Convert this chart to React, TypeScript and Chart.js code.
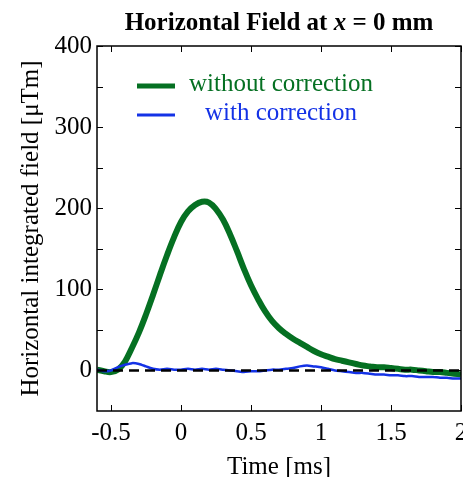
import React, { useEffect, useRef } from "react";
import { Chart, registerables } from "chart.js";
Chart.register(...registerables);

const timeMs = [
  -0.6, -0.55, -0.5, -0.45, -0.4, -0.35, -0.3, -0.25, -0.2, -0.15, -0.1, -0.05,
  0, 0.05, 0.1, 0.15, 0.2, 0.25, 0.3, 0.35, 0.4, 0.45, 0.5, 0.55, 0.6, 0.65,
  0.7, 0.75, 0.8, 0.85, 0.9, 0.95, 1, 1.05, 1.1, 1.15, 1.2, 1.25, 1.3, 1.35,
  1.4, 1.45, 1.5, 1.55, 1.6, 1.65, 1.7, 1.75, 1.8, 1.85, 1.9, 1.95, 2,
];
const withoutCorrection = [
  1, -1, -2, 1, 11, 28, 47, 69, 93, 118, 142, 164,
  183, 196, 204, 208, 207, 199, 186, 168, 147, 125, 105, 88, 73, 61,
  52, 45, 39, 34, 29, 24, 20, 17, 14, 12, 10, 8, 6, 5,
  4, 4, 3, 2, 1, 1, 0, -1, -2, -2, -3, -4, -5,
];
const withCorrection = [
  1, -1, 0, 4, 7, 9, 8, 5, 2, 1, 2, 1,
  1, 2, 1, 2, 1, 2, 1, 0, -1, -2, -1, -1, 0, 1,
  1, 2, 3, 5, 6, 5, 4, 2, 0, -1, -2, -3, -3, -4,
  -5, -5, -6, -6, -7, -7, -8, -8, -8, -9, -9, -10, -10,
];
const zeroLine = [0, 0];
const xTicks = [-0.5, 0, 0.5, 1, 1.5, 2];
const yTicks = [0, 100, 200, 300, 400];
const yMinorTicks = [50, 150, 250, 350];

const SERIF = "'Liberation Serif', 'Times New Roman', serif";
const GREEN = "#057022";
const BLUE = "#1432e6";

const decor = {
  id: "decor",
  afterDatasetsDraw(chart: any) {
    const { ctx, chartArea: a, scales } = chart;
    const x = scales.x;
    const y = scales.y;
    ctx.save();
    ctx.strokeStyle = "#000";
    ctx.lineWidth = 1.5;
    ctx.strokeRect(a.left, a.top, a.right - a.left, a.bottom - a.top);
    const L = 6;
    const seg = (x1: number, y1: number, x2: number, y2: number) => {
      ctx.beginPath();
      ctx.moveTo(x1, y1);
      ctx.lineTo(x2, y2);
      ctx.stroke();
    };
    ctx.lineWidth = 1;
    xTicks.forEach((v) => {
      const px = Math.round(x.getPixelForValue(v)) + 0.5;
      seg(px, a.bottom, px, a.bottom - L);
      seg(px, a.top, px, a.top + L);
    });
    [...yTicks, ...yMinorTicks].forEach((v) => {
      const py = Math.round(y.getPixelForValue(v)) + 0.5;
      seg(a.left, py, a.left + L, py);
      seg(a.right, py, a.right - L, py);
    });

    // Title
    const cx = (a.left + a.right) / 2;
    const p1 = "Horizontal Field at ";
    const p2 = "x";
    const p3 = " = 0 mm";
    const fB = `bold 25px ${SERIF}`;
    const fBI = `italic bold 25px ${SERIF}`;
    ctx.fillStyle = "#000";
    ctx.textBaseline = "middle";
    ctx.font = fB;
    const w1 = ctx.measureText(p1).width;
    const w3 = ctx.measureText(p3).width;
    ctx.font = fBI;
    const w2 = ctx.measureText(p2).width;
    let tx = cx - (w1 + w2 + w3) / 2;
    ctx.textAlign = "left";
    ctx.font = fB;
    ctx.fillText(p1, tx, 24);
    tx += w1;
    ctx.font = fBI;
    ctx.fillText(p2, tx, 24);
    tx += w2;
    ctx.font = fB;
    ctx.fillText(p3, tx, 24);

    // Axis titles
    ctx.font = `25px ${SERIF}`;
    ctx.textAlign = "center";
    ctx.textBaseline = "alphabetic";
    ctx.fillText("Time [ms]", cx, 474);
    ctx.save();
    ctx.translate(38, (a.top + a.bottom) / 2);
    ctx.rotate(-Math.PI / 2);
    ctx.fillText("Horizontal integrated field [\u03bcTm]", 0, 0);
    ctx.restore();

    // Legend
    const lx1 = a.left + 40;
    const lx2 = a.left + 78;
    const tcx = a.left + 184;
    ctx.lineCap = "butt";
    ctx.strokeStyle = GREEN;
    ctx.lineWidth = 5;
    seg(lx1, a.top + 40, lx2, a.top + 40);
    ctx.strokeStyle = BLUE;
    ctx.lineWidth = 3;
    seg(lx1, a.top + 69, lx2, a.top + 69);
    ctx.textBaseline = "middle";
    ctx.fillStyle = GREEN;
    ctx.fillText("without correction", tcx, a.top + 38);
    ctx.fillStyle = BLUE;
    ctx.fillText("with correction", tcx, a.top + 67);
    ctx.restore();
  },
};

export default function App() {
  const ref = useRef<HTMLCanvasElement>(null);
  useEffect(() => {
    const toPts = (arr: number[]) => arr.map((v, i) => ({ x: timeMs[i], y: v }));
    const chart = new Chart(ref.current as HTMLCanvasElement, {
      type: "line",
      data: {
        datasets: [
          {
            data: [
              { x: timeMs[0], y: zeroLine[0] },
              { x: timeMs[timeMs.length - 1], y: zeroLine[1] },
            ],
            borderColor: "#000",
            borderWidth: 2.5,
            borderDash: [10, 6],
            pointRadius: 0,
            order: 0,
          },
          {
            data: toPts(withCorrection),
            borderColor: BLUE,
            borderWidth: 2.5,
            pointRadius: 0,
            tension: 0.2,
            order: 1,
          },
          {
            data: toPts(withoutCorrection),
            borderColor: GREEN,
            borderWidth: 6,
            pointRadius: 0,
            tension: 0.4,
            order: 2,
          },
        ],
      },
      options: {
        animation: false,
        responsive: false,
        devicePixelRatio: 1,
        layout: { padding: { top: 46, right: 2, left: 0, bottom: 0 } },
        plugins: { legend: { display: false }, tooltip: { enabled: false } },
        scales: {
          x: {
            type: "linear",
            min: -0.6,
            max: 2,
            grid: { display: false, drawTicks: false },
            border: { display: false },
            afterBuildTicks: (s: any) => {
              s.ticks = xTicks.map((v) => ({ value: v }));
            },
            afterFit: (s: any) => {
              s.height = 66;
              s.paddingLeft = 0;
              s.paddingRight = 0;
            },
            ticks: {
              font: { family: SERIF, size: 25 },
              color: "#000",
              padding: 7,
              maxRotation: 0,
              autoSkip: false,
              callback: (v: any) => String(v),
            },
          },
          y: {
            type: "linear",
            min: -50,
            max: 400,
            grid: { display: false, drawTicks: false },
            border: { display: false },
            afterBuildTicks: (s: any) => {
              s.ticks = yTicks.map((v) => ({ value: v }));
            },
            afterFit: (s: any) => {
              s.width = 97;
              s.paddingTop = 0;
              s.paddingBottom = 0;
            },
            ticks: {
              font: { family: SERIF, size: 25 },
              color: "#000",
              padding: 5,
              autoSkip: false,
              callback: (v: any) => String(v),
            },
          },
        },
      },
      plugins: [decor],
    } as any);
    return () => chart.destroy();
  }, []);
  return (
    <div style={{ position: "fixed", left: 0, top: 0, width: 463, height: 477, background: "#fff" }}>
      <canvas ref={ref} width={463} height={477} style={{ display: "block" }} />
    </div>
  );
}
